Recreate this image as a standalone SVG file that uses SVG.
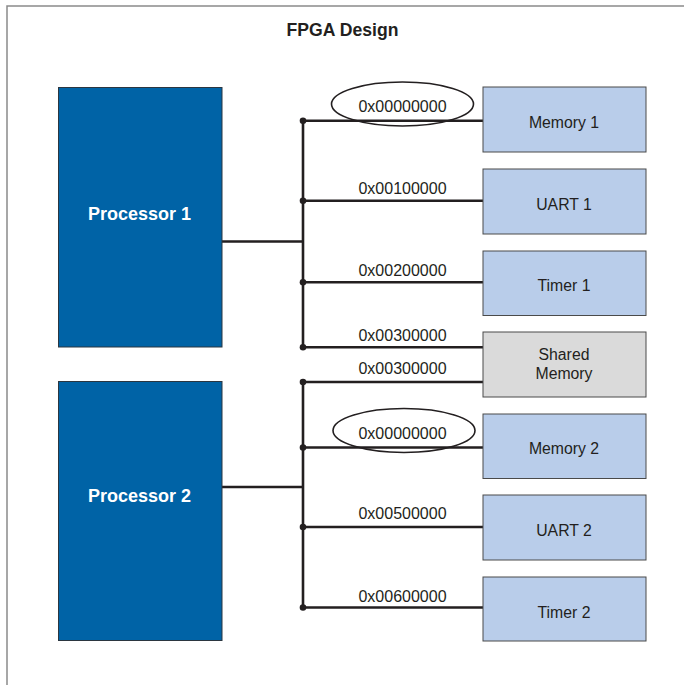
<svg xmlns="http://www.w3.org/2000/svg" width="684" height="685" viewBox="0 0 684 685">
<style>
.frame{fill:none;stroke:#8a8a8a;stroke-width:1.5}
.proc{fill:#0063a6;stroke:#2b3640;stroke-width:1}
.per{fill:#b9cdea;stroke:#4a4a4a;stroke-width:1}
.shared{fill:#dadada;stroke:#4a4a4a;stroke-width:1}
.bus{fill:none;stroke:#231f20;stroke-width:2.6}
.dot{fill:#231f20}
.oval{fill:none;stroke:#231f20;stroke-width:1.6}
.ptext{font-family:"Liberation Sans",Arial,sans-serif;font-weight:bold;font-size:18px;fill:#ffffff;text-anchor:middle}
.btext{font-family:"Liberation Sans",Arial,sans-serif;font-size:15.8px;fill:#231f20;text-anchor:middle}
.atext{font-family:"Liberation Sans",Arial,sans-serif;font-size:16px;fill:#231f20;text-anchor:middle}
.title{font-family:"Liberation Sans",Arial,sans-serif;font-weight:bold;font-size:17.6px;fill:#231f20;text-anchor:middle}
</style>
<rect x="0" y="0" width="684" height="685" fill="#ffffff"/>
<path class="frame" d="M7,685 V6 H684"/>
<text class="title" x="342.5" y="36">FPGA Design</text>

<g id="connectors">
  <path class="bus" d="M222,241.5 H303 M303,120.7 V347.3 M303,120.7 H483 M303,200.7 H483 M303,282.3 H483 M303,347.3 H483"/>
  <path class="bus" d="M222,487 H303 M303,382 V607.5 M303,382 H483 M303,447.5 H483 M303,527 H483 M303,607.5 H483"/>
  <circle class="dot" cx="303" cy="120.7" r="3.3"/>
  <circle class="dot" cx="303" cy="200.7" r="3.3"/>
  <circle class="dot" cx="303" cy="282.3" r="3.3"/>
  <circle class="dot" cx="303" cy="347.3" r="3.3"/>
  <circle class="dot" cx="303" cy="382" r="3.3"/>
  <circle class="dot" cx="303" cy="447.5" r="3.3"/>
  <circle class="dot" cx="303" cy="527" r="3.3"/>
  <circle class="dot" cx="303" cy="607.5" r="3.3"/>
  <text class="atext" x="402.5" y="111.7">0x00000000</text>
  <text class="atext" x="402.5" y="194">0x00100000</text>
  <text class="atext" x="402.5" y="275.7">0x00200000</text>
  <text class="atext" x="402.5" y="340.7">0x00300000</text>
  <text class="atext" x="402.5" y="374">0x00300000</text>
  <text class="atext" x="402.5" y="439">0x00000000</text>
  <text class="atext" x="402.5" y="519">0x00500000</text>
  <text class="atext" x="402.5" y="602">0x00600000</text>
  <ellipse class="oval" cx="402.5" cy="104" rx="71" ry="22"/>
  <ellipse class="oval" cx="404" cy="430.5" rx="71" ry="22"/>
</g>

<g id="processor1">
  <rect class="proc" x="58.5" y="87.5" width="163.5" height="259.5"/>
  <text class="ptext" x="139.5" y="219.5">Processor 1</text>
</g>
<g id="processor2">
  <rect class="proc" x="58.5" y="381.5" width="163.5" height="259"/>
  <text class="ptext" x="139.5" y="501.5">Processor 2</text>
</g>

<g id="memory1">
  <rect class="per" x="483" y="87" width="163" height="65"/>
  <text class="btext" x="564" y="128">Memory 1</text>
</g>
<g id="uart1">
  <rect class="per" x="483" y="169" width="163" height="65"/>
  <text class="btext" x="564" y="209.5">UART 1</text>
</g>
<g id="timer1">
  <rect class="per" x="483" y="251" width="163" height="64.5"/>
  <text class="btext" x="564" y="291">Timer 1</text>
</g>
<g id="shared">
  <rect class="shared" x="483" y="332" width="163" height="65"/>
  <text class="btext" x="564" y="359.5">Shared</text>
  <text class="btext" x="564" y="378.5">Memory</text>
</g>
<g id="memory2">
  <rect class="per" x="483" y="414" width="163" height="64.5"/>
  <text class="btext" x="564" y="454">Memory 2</text>
</g>
<g id="uart2">
  <rect class="per" x="483" y="495" width="163" height="65"/>
  <text class="btext" x="564" y="535.5">UART 2</text>
</g>
<g id="timer2">
  <rect class="per" x="483" y="577" width="163" height="64"/>
  <text class="btext" x="564" y="617.5">Timer 2</text>
</g>
</svg>
